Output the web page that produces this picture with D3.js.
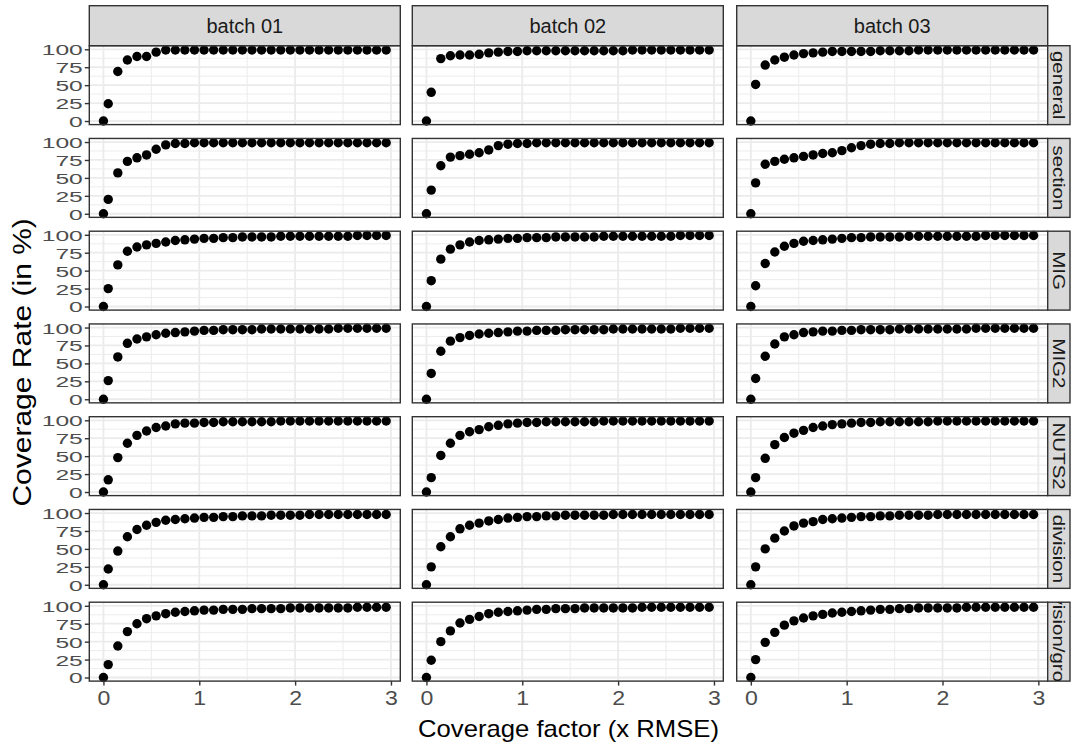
<!DOCTYPE html>
<html>
<head>
<meta charset="utf-8">
<script src="https://cdn.jsdelivr.net/npm/d3@7"></script>
<style>
  body { margin: 0; background: #fff; }
  text { font-family: "Liberation Sans", Arial, sans-serif; }
</style>
</head>
<body>
<svg class="chart"></svg>
<script>
// facet labels
const batches = ['batch 01', 'batch 02', 'batch 03']
const levels = ['general', 'section', 'MIG', 'MIG2', 'NUTS2', 'division', 'division/group']

// coverage factor (x RMSE)
const factors = [0, 0.05, 0.15, 0.25, 0.35, 0.45, 0.55, 0.65, 0.75, 0.85, 0.95,
    1.05, 1.15, 1.25, 1.35, 1.45, 1.55, 1.65, 1.75, 1.85, 1.95,
    2.05, 2.15, 2.25, 2.35, 2.45, 2.55, 2.65, 2.75, 2.85, 2.95]

const yTicks = [0, 25, 50, 75, 100]
const xTicks = [0, 1, 2, 3]

// coverage rate (in %), batch 01
const b1General  = [0,24,69,85,90,90,96,99,99,99,99,99,99,99,99,99,99,99,99,99,99,99,99,99,99,99,99,99,99,99,99]
const b1Section  = [0,20,57,73,78,82,90,96,98,98,99,99,99,99,99,99,99,99,99,99,99,99,99,99,99,99,99,99,99,99,99]
const b1Mig      = [0,25,58,77,83,86,88,90,92,93,94,95,95,96,96,97,97,97,97,98,98,98,98,98,98,98,98,99,99,99,99]
const b1Mig2     = [0,26,59,78,84,87,90,92,93,94,95,96,96,97,97,97,97,98,98,98,98,98,98,98,98,99,99,99,99,99,99]
const b1Nuts2    = [0,17,48,68,79,85,90,92,95,96,96,97,97,98,98,98,98,98,98,99,99,99,99,99,99,99,99,99,99,99,99]
const b1Division = [0,22,47,67,77,83,87,90,91,92,93,94,94,95,95,96,96,96,97,97,97,97,98,98,98,98,98,98,98,98,98]
const b1DivGroup = [0,18,44,64,75,82,86,89,91,92,93,94,94,95,95,95,96,96,96,96,97,97,97,97,97,97,97,98,98,98,98]

// batch 02
const b2General  = [0,40,87,91,92,92,93,95,96,97,97,98,98,98,98,98,98,98,98,98,98,98,99,99,99,99,99,99,99,99,99]
const b2Section  = [0,33,67,79,81,83,85,89,95,97,98,98,99,99,99,99,99,99,99,99,99,99,99,99,99,99,99,99,99,99,99]
const b2Mig      = [0,36,66,80,86,90,92,93,94,95,95,96,96,96,97,97,97,97,97,98,98,98,98,98,98,98,98,99,99,99,99]
const b2Mig2     = [0,36,67,81,86,89,91,92,93,94,95,95,96,96,96,97,97,97,97,97,98,98,98,98,98,98,98,99,99,99,99]
const b2Nuts2    = [0,20,51,68,79,84,87,91,93,95,96,97,97,98,98,98,98,98,98,99,99,99,99,99,99,99,99,99,99,99,99]
const b2Division = [0,25,53,67,78,83,86,89,91,93,94,95,95,96,96,97,97,97,97,97,98,98,98,98,98,98,98,98,98,98,98]
const b2DivGroup = [0,24,50,65,76,81,85,89,91,92,93,94,95,95,96,96,96,97,97,97,97,97,97,98,98,98,98,98,98,98,98]

// batch 03
const b3General  = [0,51,78,85,89,92,94,95,96,97,97,97,97,97,98,98,98,98,99,99,99,99,99,99,99,99,99,99,99,99,99]
const b3Section  = [0,43,69,73,76,78,80,82,84,85,88,92,95,97,98,98,99,99,99,99,99,99,99,99,99,99,99,99,99,99,99]
const b3Mig      = [0,29,60,76,84,88,91,92,93,94,95,96,96,97,97,97,97,98,98,98,98,98,98,98,98,99,99,99,99,99,99]
const b3Mig2     = [0,29,60,77,87,90,93,94,95,95,96,96,97,97,97,97,98,98,98,98,98,98,98,98,99,99,99,99,99,99,99]
const b3Nuts2    = [0,20,47,66,76,82,86,90,92,94,95,96,97,97,98,98,98,98,98,98,99,99,99,99,99,99,99,99,99,99,99]
const b3Division = [0,25,50,65,75,82,86,88,91,92,93,94,95,95,96,96,97,97,97,97,98,98,98,98,98,98,98,98,98,98,98]
const b3DivGroup = [0,25,49,63,73,79,83,86,88,90,91,92,93,94,95,95,96,96,97,97,97,97,97,98,98,98,98,98,98,98,98]

const series = [
    [b1General, b1Section, b1Mig, b1Mig2, b1Nuts2, b1Division, b1DivGroup],
    [b2General, b2Section, b2Mig, b2Mig2, b2Nuts2, b2Division, b2DivGroup],
    [b3General, b3Section, b3Mig, b3Mig2, b3Nuts2, b3Division, b3DivGroup]
]

// layout
const width = 1088
const height = 748
const colLeft = [89.3, 412.3, 736.7]
const panelW = 311
const firstTop = 45.7
const rowStep = 92.75
const panelH = 78.9
const stripH = 40
const stripW = 22.3
const tickLen = 4.5

const svg = d3.select('.chart')
    .attr('width', width)
    .attr('height', height)

svg.append('rect').attr('width', width).attr('height', height).attr('fill', '#fff')

const x = d3.scaleLinear().domain([-0.1475, 3.0975]).range([0, panelW])
const y = d3.scaleLinear().domain([-5, 105]).range([panelH, 0])

const defs = svg.append('defs')

const drawPanel = (g, values, showY, showX) => {

    g.append('rect')
        .attr('width', panelW).attr('height', panelH)
        .attr('fill', '#fff')

    // minor grid
    g.selectAll('.vminor').data([0.5, 1.5, 2.5])
        .enter().append('line')
        .attr('x1', d => x(d)).attr('x2', d => x(d))
        .attr('y1', 0).attr('y2', panelH)
        .attr('stroke', '#ebebeb').attr('stroke-width', 0.9)
    g.selectAll('.hminor').data([12.5, 37.5, 62.5, 87.5])
        .enter().append('line')
        .attr('y1', d => y(d)).attr('y2', d => y(d))
        .attr('x1', 0).attr('x2', panelW)
        .attr('stroke', '#ebebeb').attr('stroke-width', 0.9)

    // major grid
    g.selectAll('.vmajor').data(xTicks)
        .enter().append('line')
        .attr('x1', d => x(d)).attr('x2', d => x(d))
        .attr('y1', 0).attr('y2', panelH)
        .attr('stroke', '#ebebeb').attr('stroke-width', 1.8)
    g.selectAll('.hmajor').data(yTicks)
        .enter().append('line')
        .attr('y1', d => y(d)).attr('y2', d => y(d))
        .attr('x1', 0).attr('x2', panelW)
        .attr('stroke', '#ebebeb').attr('stroke-width', 1.8)

    g.selectAll('circle').data(values)
        .enter().append('circle')
        .attr('cx', (d, i) => x(factors[i]))
        .attr('cy', d => y(d))
        .attr('r', 4.7)
        .attr('fill', '#000')

    g.append('rect')
        .attr('width', panelW).attr('height', panelH)
        .attr('fill', 'none')
        .attr('stroke', '#333').attr('stroke-width', 1.4)

    if (showY) {
        const ax = g.append('g')
            .call(d3.axisLeft(y).tickValues(yTicks).tickSize(tickLen))
        ax.select('.domain').remove()
        ax.selectAll('line').attr('stroke', '#333').attr('stroke-width', 1.4)
        // squat labels as in the original render
        ax.selectAll('text')
            .attr('x', 0).attr('dy', '0.36em')
            .attr('transform', `translate(${-tickLen - 2},0) scale(1.62,1)`)
            .attr('fill', '#4d4d4d').style('font-size', '15.2px')
            .attr('font-family', null)
    }
    if (showX) {
        const ax = g.append('g')
            .attr('transform', `translate(0,${panelH})`)
            .call(d3.axisBottom(x).tickValues(xTicks).tickFormat(d3.format('d')).tickSize(tickLen))
        ax.select('.domain').remove()
        ax.selectAll('line').attr('stroke', '#333').attr('stroke-width', 1.4)
        ax.selectAll('text')
            .attr('y', 0).attr('dy', '0.71em')
            .attr('transform', `translate(0,${tickLen + 4}) scale(1.1,1)`)
            .attr('fill', '#4d4d4d').style('font-size', '21px')
            .attr('font-family', null)
    }
}

series.forEach((col, ci) => {
    col.forEach((values, ri) => {
        const g = svg.append('g')
            .attr('transform', `translate(${colLeft[ci]},${firstTop + ri * rowStep})`)
        drawPanel(g, values, ci === 0, ri === levels.length - 1)
    })
})

// top strips
batches.forEach((b, ci) => {
    const g = svg.append('g')
        .attr('transform', `translate(${colLeft[ci]},${firstTop - stripH})`)
    g.append('rect')
        .attr('width', panelW).attr('height', stripH)
        .attr('fill', '#d9d9d9').attr('stroke', '#333').attr('stroke-width', 1.4)
    g.append('text')
        .text(b)
        .attr('x', panelW / 2).attr('y', stripH / 2)
        .attr('dy', '0.36em')
        .attr('text-anchor', 'middle')
        .attr('fill', '#1a1a1a')
        .style('font-size', '20px')
})

// right strips
const stripX = colLeft[2] + panelW
levels.forEach((l, ri) => {
    const top = firstTop + ri * rowStep
    defs.append('clipPath').attr('id', `clip-${ri}`)
        .append('rect')
        .attr('x', 0).attr('y', 0).attr('width', stripW).attr('height', panelH)
    const g = svg.append('g')
        .attr('transform', `translate(${stripX},${top})`)
    g.append('rect')
        .attr('width', stripW).attr('height', panelH)
        .attr('fill', '#d9d9d9').attr('stroke', '#333').attr('stroke-width', 1.4)
    g.append('g').attr('clip-path', `url(#clip-${ri})`)
        .append('text')
        .text(l)
        .attr('transform', `translate(${stripW / 2},${panelH / 2}) rotate(90) scale(1,0.78)`)
        .attr('dy', '0.36em')
        .attr('text-anchor', 'middle')
        .attr('fill', '#1a1a1a')
        .style('font-size', '20.5px')
})

// axis titles
const plotLeft = colLeft[0]
const plotRight = colLeft[2] + panelW
const lastBottom = firstTop + (levels.length - 1) * rowStep + panelH

svg.append('text')
    .text('Coverage factor (x RMSE)')
    .attr('transform', `translate(${(plotLeft + plotRight) / 2},${lastBottom + 56}) scale(1.07,1)`)
    .attr('text-anchor', 'middle')
    .attr('fill', '#000')
    .style('font-size', '24px')

svg.append('text')
    .text('Coverage Rate (in %)')
    .attr('transform', `translate(31,${(firstTop + lastBottom) / 2 - 1}) rotate(-90) scale(1.2,1)`)
    .attr('text-anchor', 'middle')
    .attr('fill', '#000')
    .style('font-size', '25px')
</script>
</body>
</html>
